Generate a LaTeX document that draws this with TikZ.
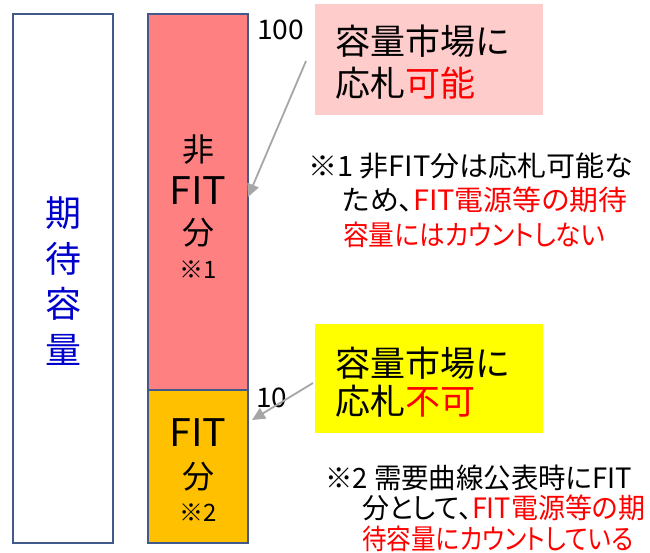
\documentclass[tikz,border=0pt]{standalone}
\usepackage{fontspec}
\usepackage{graphicx}
\setmainfont{Noto Sans CJK JP}
\newfontfamily\notefont[RawFeature=+palt]{Noto Sans CJK JP}
\usetikzlibrary{arrows.meta}
\definecolor{frame}{HTML}{41598B}
\definecolor{nonfit}{HTML}{FF8080}
\definecolor{fitc}{HTML}{FFC000}
\definecolor{pinkbox}{HTML}{FFCCCC}
\definecolor{yelbox}{HTML}{FFFF00}
\definecolor{redtxt}{HTML}{FF0000}
\definecolor{bluetxt}{HTML}{0000CC}
\definecolor{arrowgray}{HTML}{A6A6A6}
\newcommand{\fitw}[2]{\resizebox{#1pt}{\height}{#2}}
\tikzset{
  bar/.style={draw=frame, line width=1.6pt},
  pointer/.style={draw=arrowgray, line width=1.8pt, -{Triangle[length=13pt,width=12pt]}},
  bigtxt/.style={inner sep=0pt, font=\fontsize{35}{40}\selectfont},
  midtxt/.style={inner sep=0pt, font=\fontsize{32}{36}\selectfont},
  fittxt/.style={inner sep=0pt, font=\fontsize{38}{42}\selectfont},
  smalltxt/.style={inner sep=0pt, font=\fontsize{24}{26}\selectfont},
  notetxt/.style={inner sep=0pt, anchor=west, font=\notefont\fontsize{28}{32}\selectfont},
  numtxt/.style={inner sep=0pt, font=\fontsize{27}{30}\selectfont},
  vtxt/.style={inner sep=0pt, text=bluetxt, font=\fontsize{36}{40}\selectfont},
}
\begin{document}
\begin{tikzpicture}[x=1pt,y=-1pt]
\useasboundingbox (0,0) rectangle (650,552);
% left bar
\draw[bar, fill=white] (13,14) rectangle (113,543);
\node[vtxt] (v1) at (63,213) {期};
\node[vtxt] (v2) at (63,259) {待};
\node[vtxt] (v3) at (63,304) {容};
\node[vtxt] (v4) at (63,350) {量};
% middle bar
\draw[bar, fill=nonfit] (148,14) rectangle (248,390);
\draw[bar, fill=fitc] (148,390) rectangle (248,543);
\coordinate (nf) at (248,197);
\coordinate (ff) at (252,420);
\node[midtxt] (n1) at (198,150) {非};
\node[fittxt] (n2) at (198,191) {\fitw{57}{FIT}};
\node[midtxt] (n3) at (198,233) {分};
\node[smalltxt] (n4) at (198,270) {※1};
\node[fittxt] (f1) at (198,433) {\fitw{57}{FIT}};
\node[midtxt] (f2) at (198,477) {分};
\node[smalltxt] (f3) at (198,513) {※2};
% numbers
\node[numtxt, anchor=west] (h100) at (257,30) {\fitw{47}{100}};
\node[numtxt, anchor=west] (h10) at (256,398) {\fitw{31}{10}};
% pink callout
\fill[pinkbox] (315,4) rectangle (543,115);
\node[bigtxt, anchor=west] (p1) at (335,41) {容量市場に};
\node[bigtxt, anchor=west] (p2) at (335,83) {応札\textcolor{redtxt}{可能}};
% yellow callout
\fill[yelbox] (315,324) rectangle (543,433);
\node[bigtxt, anchor=west] (y1) at (335,363) {容量市場に};
\node[bigtxt, anchor=west] (y2) at (335,401) {応札\textcolor{redtxt}{不可}};
% arrows
\coordinate (a1) at (306,61);
\coordinate (a2) at (313,383);
\draw[pointer] (a1) -- (nf);
\draw[pointer] (a2) -- (ff);
% note 1
\node[notetxt] (m1) at (308,166) {\fitw{325}{※1 非FIT分は応札可能な}};
\node[notetxt] (m2) at (342,200) {\fitw{285}{ため、\textcolor{redtxt}{FIT電源等の期待}}};
\node[notetxt] (m3) at (343,235) {\fitw{262}{\textcolor{redtxt}{容量にはカウントしない}}};
% note 2
\node[notetxt] (k1) at (325,478) {\fitw{307}{※2 需要曲線公表時にFIT}};
\node[notetxt] (k2) at (362,508) {\fitw{283}{分として、\textcolor{redtxt}{FIT電源等の期}}};
\node[notetxt] (k3) at (362,539) {\fitw{271}{\textcolor{redtxt}{待容量にカウントしている}}};
\end{tikzpicture}
\end{document}
